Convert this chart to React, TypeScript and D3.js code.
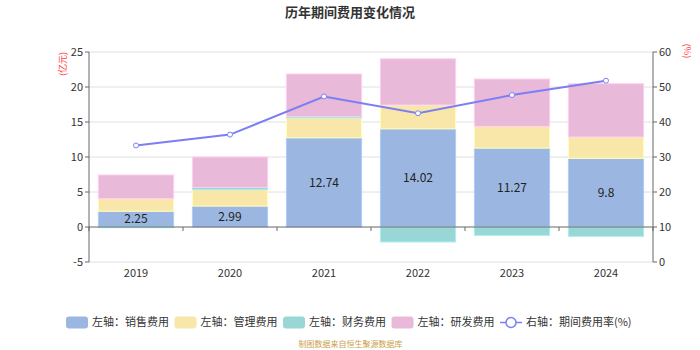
import React from "react";
import * as d3 from "d3";

const years = ["2019", "2020", "2021", "2022", "2023", "2024"];
const sales = [2.25, 2.99, 12.74, 14.02, 11.27, 9.8];
const mgmt = [1.8, 2.34, 2.83, 3.41, 3.1, 3.06];
const finance = [-0.1, 0.33, 0.19, -2.14, -1.2, -1.34];
const rnd = [3.38, 4.34, 6.1, 6.6, 6.77, 7.61];
const rate = [33.3, 36.4, 47.3, 42.5, 47.7, 51.8];
const leftTicks = [-5, 0, 5, 10, 15, 20, 25];
const rightTicks = [0, 10, 20, 30, 40, 50, 60];

const seriesNames = ["左轴：销售费用", "左轴：管理费用", "左轴：财务费用", "左轴：研发费用"];
const colors = ["#9bb7e1", "#f9e7aa", "#98d7d5", "#e8b9d9"];
const lineColor = "#7b7ff3";
const font = "'Noto Sans CJK SC', 'Noto Sans', sans-serif";

export default function App() {
  const W = 700, H = 350;
  const left = 89, right = 653, top = 52, bottom = 262;
  const x = d3.scaleBand<string>().domain(years).range([left, right]).paddingInner(0).paddingOuter(0);
  const yL = d3.scaleLinear().domain([-5, 25]).range([bottom, top]);
  const yR = d3.scaleLinear().domain([0, 60]).range([bottom, top]);
  const bw = x.bandwidth() * 0.8;

  const series = [sales, mgmt, finance, rnd];
  const rects: any[] = [];
  years.forEach((yr, i) => {
    let pos = 0, neg = 0;
    series.forEach((s, k) => {
      const v = s[i];
      let y0, y1;
      if (v >= 0) { y0 = pos; y1 = pos + v; pos = y1; }
      else { y0 = neg; y1 = neg + v; neg = y1; }
      const yt = yL(Math.max(y0, y1));
      const yb = yL(Math.min(y0, y1));
      rects.push(
        <rect key={yr + k} x={(x(yr) as number) + (x.bandwidth() - bw) / 2} y={yt} width={bw} height={Math.max(0, yb - yt)}
          fill={colors[k]} stroke={d3.color(colors[k])!.brighter(0.3).toString()} strokeWidth={1} />
      );
    });
  });

  const line = d3.line<number>().x((_, i) => (x(years[i]) as number) + x.bandwidth() / 2).y((d) => yR(d));

  const legendItems = [
    { x: 66, tx: 92 },
    { x: 174.5, tx: 200.5 },
    { x: 283, tx: 309 },
    { x: 391.5, tx: 417.5 },
  ];
  const ly = 322.5;

  return (
    <svg width={W} height={H} style={{ position: "absolute", left: 0, top: 0, fontFamily: font }}>
      <text x={350} y={17} textAnchor="middle" fontSize={13} fontWeight="bold" fill="#333">历年期间费用变化情况</text>
      {leftTicks.filter((t) => t !== 0).map((t) => (
        <line key={"g" + t} x1={left} x2={right} y1={yL(t)} y2={yL(t)} stroke="#e0e0e0" strokeWidth={1} />
      ))}
      {rects}
      <line x1={left} x2={right} y1={yL(0)} y2={yL(0)} stroke="#666" strokeWidth={1} />
      {d3.range(years.length + 1).map((i) => (
        <line key={"xt" + i} x1={left + i * x.bandwidth()} x2={left + i * x.bandwidth()} y1={yL(0)} y2={yL(0) + 4} stroke="#666" />
      ))}
      {years.map((yr) => (
        <text key={"xl" + yr} x={(x(yr) as number) + x.bandwidth() / 2} y={277} textAnchor="middle" fontSize={11} fill="#333">{yr}</text>
      ))}
      <line x1={left} x2={left} y1={top} y2={bottom} stroke="#666" />
      {leftTicks.map((t) => (
        <g key={"lt" + t}>
          <line x1={left - 4} x2={left} y1={yL(t)} y2={yL(t)} stroke="#666" />
          <text x={left - 6} y={yL(t)} dy="0.35em" textAnchor="end" fontSize={11} fill="#333">{t}</text>
        </g>
      ))}
      <line x1={right} x2={right} y1={top} y2={bottom} stroke="#666" />
      {rightTicks.map((t) => (
        <g key={"rt" + t}>
          <line x1={right} x2={right + 4} y1={yR(t)} y2={yR(t)} stroke="#666" />
          <text x={right + 6} y={yR(t)} dy="0.35em" textAnchor="start" fontSize={11} fill="#333">{t}</text>
        </g>
      ))}
      <text transform={`translate(66,64) rotate(-90)`} textAnchor="middle" fontSize={9} fill="#ff3b3b">(亿元)</text>
      <text transform={`translate(684,51) rotate(90)`} textAnchor="middle" fontSize={9} fill="#ff3b3b">(%)</text>
      {years.map((yr, i) => (
        <text key={"sl" + yr} x={(x(yr) as number) + x.bandwidth() / 2} y={(yL(0) + yL(sales[i])) / 2} dy="0.35em"
          textAnchor="middle" fontSize={12} fill="#222">{sales[i]}</text>
      ))}
      <path d={line(rate) || ""} fill="none" stroke={lineColor} strokeWidth={2} />
      {rate.map((r, i) => (
        <circle key={"c" + i} cx={(x(years[i]) as number) + x.bandwidth() / 2} cy={yR(r)} r={2.5} fill="#fff" stroke={lineColor} strokeWidth={1} />
      ))}
      {legendItems.map((it, k) => (
        <g key={"lg" + k}>
          <rect x={it.x} y={ly - 6} width={22} height={12} rx={3} fill={colors[k]} />
          <text x={it.tx} y={ly} dy="0.35em" fontSize={11} fill="#333">{seriesNames[k]}</text>
        </g>
      ))}
      <line x1={500} x2={522} y1={ly} y2={ly} stroke={lineColor} strokeWidth={1.5} />
      <circle cx={511} cy={ly} r={5} fill="#fff" stroke={lineColor} strokeWidth={1.5} />
      <text x={526} y={ly} dy="0.35em" fontSize={11} fill="#333">右轴：期间费用率(%)</text>
      <text x={350.5} y={344} dy="0.35em" textAnchor="middle" fontSize={8} fill="#c9a04a">制图数据来自恒生聚源数据库</text>
    </svg>
  );
}
